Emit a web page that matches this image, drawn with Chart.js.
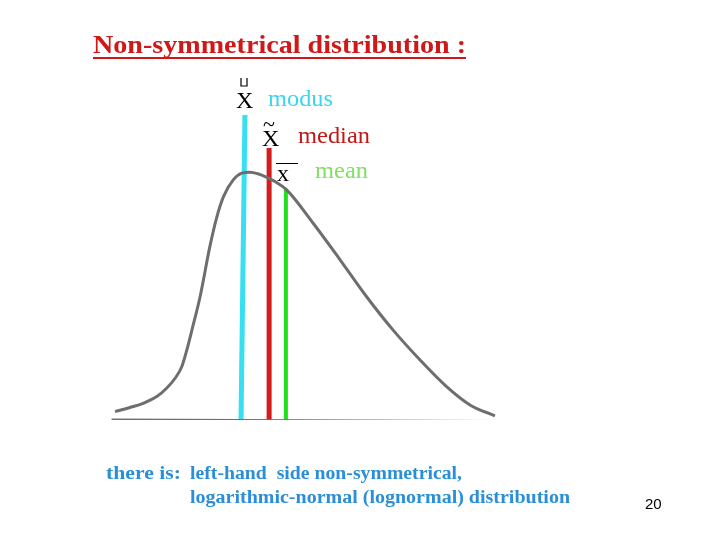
<!DOCTYPE html>
<html>
<head>
<meta charset="utf-8">
<script src="https://cdn.jsdelivr.net/npm/chart.js@4"></script>
<style>
  html, body { margin: 0; padding: 0; background: #ffffff; }
  #wrap { width: 720px; height: 540px; }
</style>
</head>
<body>
<div id="wrap"><canvas id="dist-chart" width="720" height="540"></canvas></div>
<script>
// curve (x: 0..100, y: 0..100)
const curveX = [1.3, 5.1, 8.5, 12.0, 14.5, 16.7, 18.4, 19.7, 21.0, 23.1, 25.6, 27.4, 29.1, 31.6, 33.8, 35.9, 37.9, 40.2, 42.3, 45.3, 52.1, 59.0, 65.8, 72.6, 79.5, 86.3, 92.3, 98.7];
const curveY = [2.6, 3.9, 5.2, 7.3, 9.9, 13.0, 16.6, 21.8, 28.0, 38.4, 54.0, 63.3, 69.6, 74.8, 76.9, 77.2, 76.7, 75.6, 74.3, 71.7, 61.3, 49.9, 38.4, 28.0, 18.7, 10.4, 4.7, 1.3];

// baseline
const baseX = [0.4, 98.7];
const baseY = [0.2, -0.2];

// vertical markers: modus, median, mean
const modusX = [33.6, 34.6];
const modusY = [0, 95];
const medianX = [40.8, 40.8];
const medianY = [0, 84.7];
const meanX = [45.1, 45.1];
const meanY = [0, 72];

function pts(xs, ys) {
    return xs.map(function (x, i) { return { x: x, y: ys[i] }; });
}

// draw text stretched horizontally to a given width
function fitText(ctx, text, x, y, width) {
    const w = ctx.measureText(text).width;
    ctx.save();
    ctx.translate(x, y);
    ctx.scale(width / w, 1);
    ctx.fillText(text, 0, 0);
    ctx.restore();
}

// text annotations drawn on top of the chart
const annotations = {
    id: 'annotations',
    afterDraw: function (chart) {
        const ctx = chart.ctx;
        ctx.save();
        ctx.textBaseline = 'alphabetic';

        // title
        ctx.fillStyle = '#d01818';
        ctx.font = 'bold 26px "Liberation Serif", "Times New Roman", serif';
        fitText(ctx, 'Non-symmetrical distribution :', 93, 53, 373);
        ctx.fillRect(93, 57, 373, 2);

        // symbols
        ctx.fillStyle = '#000000';
        ctx.strokeStyle = '#000000';
        ctx.font = '24px "Liberation Serif", "Times New Roman", serif';
        ctx.fillText('X', 236, 108);
        ctx.lineWidth = 1.2;
        ctx.beginPath();
        ctx.moveTo(241, 78); ctx.lineTo(241, 86); ctx.lineTo(247, 86); ctx.lineTo(247, 78);
        ctx.stroke();

        ctx.fillText('X', 262, 146);
        ctx.font = '22px "Liberation Serif", "Times New Roman", serif';
        ctx.fillText('~', 263, 131);

        ctx.font = '24px "Liberation Serif", "Times New Roman", serif';
        ctx.fillText('x', 277, 181);
        ctx.lineWidth = 1;
        ctx.beginPath();
        ctx.moveTo(276, 163.5); ctx.lineTo(298, 163.5);
        ctx.stroke();

        // labels
        ctx.font = '24px "Liberation Serif", "Times New Roman", serif';
        ctx.fillStyle = '#3ad6ee';
        fitText(ctx, 'modus', 268, 106, 65);
        ctx.fillStyle = '#c01818';
        fitText(ctx, 'median', 298, 143, 72);
        ctx.fillStyle = '#80e060';
        fitText(ctx, 'mean', 315, 178, 53);

        // bottom text
        ctx.fillStyle = '#2a8fd6';
        ctx.font = 'bold 18px "Liberation Serif", "Times New Roman", serif';
        fitText(ctx, 'there is:', 106, 479, 75);
        fitText(ctx, 'left-hand  side non-symmetrical,', 190, 479, 272);
        fitText(ctx, 'logarithmic-normal (lognormal) distribution', 190, 503, 380);

        // page number
        ctx.fillStyle = '#000000';
        ctx.font = '15px "Liberation Sans Narrow", "Liberation Sans", sans-serif';
        ctx.fillText('20', 645, 509);

        ctx.restore();
    }
};

document.addEventListener('DOMContentLoaded', function () {
    const ctx = document.getElementById('dist-chart').getContext('2d');
    new Chart(ctx, {
        type: 'line',
        data: {
            datasets: [
                {
                    label: 'baseline',
                    data: pts(baseX, baseY),
                    borderColor: '#707070',
                    borderWidth: 1.5,
                    pointRadius: 0,
                    fill: false
                },
                {
                    label: 'distribution',
                    data: pts(curveX, curveY),
                    borderColor: '#6e6e6e',
                    borderWidth: 3,
                    pointRadius: 0,
                    cubicInterpolationMode: 'monotone',
                    fill: false
                },
                {
                    label: 'modus',
                    data: pts(modusX, modusY),
                    borderColor: '#36e0f2',
                    borderWidth: 5,
                    pointRadius: 0,
                    fill: false
                },
                {
                    label: 'median',
                    data: pts(medianX, medianY),
                    borderColor: '#d41c1c',
                    borderWidth: 5,
                    pointRadius: 0,
                    fill: false
                },
                {
                    label: 'mean',
                    data: pts(meanX, meanY),
                    borderColor: '#1ee01e',
                    borderWidth: 4,
                    pointRadius: 0,
                    fill: false
                }
            ]
        },
        options: {
            responsive: false,
            animation: false,
            layout: {
                padding: { left: 110, right: 220, top: 99, bottom: 120 }
            },
            plugins: {
                legend: { display: false },
                tooltip: { enabled: false }
            },
            scales: {
                x: { type: 'linear', min: 0, max: 100, display: false },
                y: { type: 'linear', min: 0, max: 100, display: false }
            }
        },
        plugins: [annotations]
    });
});
</script>
</body>
</html>
